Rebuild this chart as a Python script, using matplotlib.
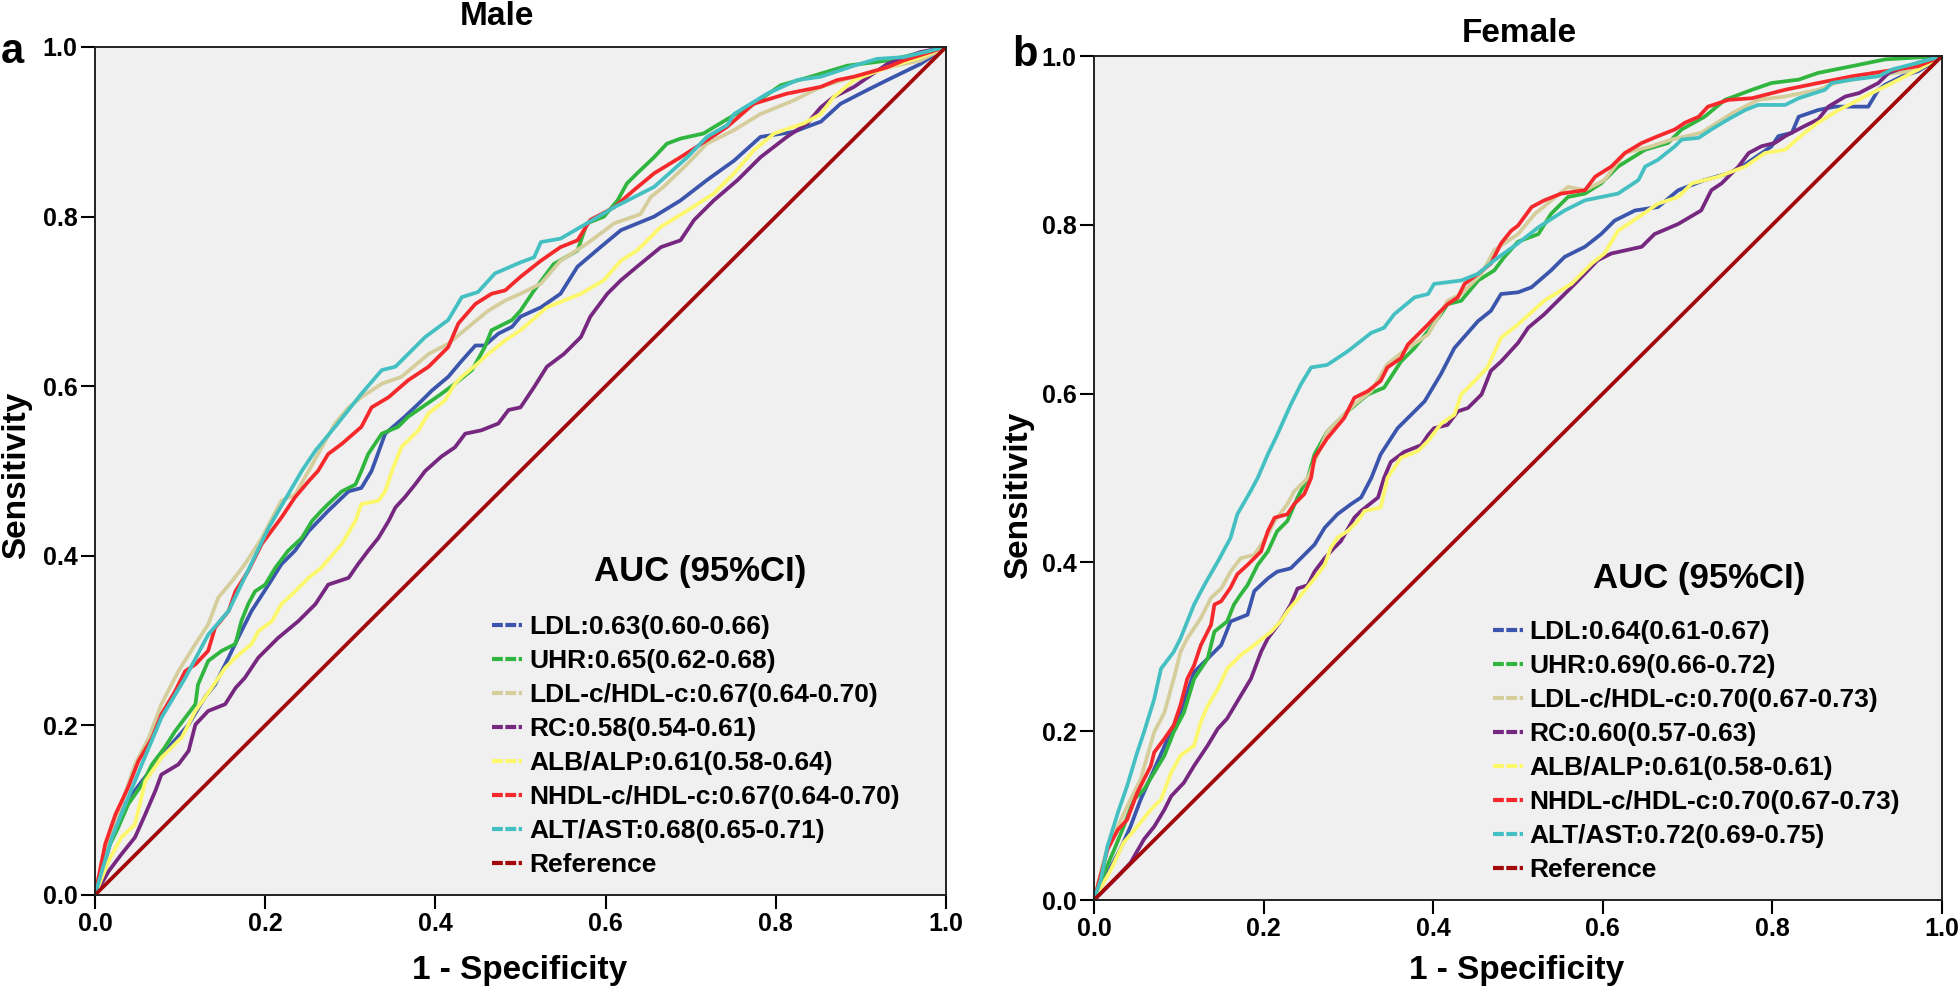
import numpy as np
import matplotlib
matplotlib.use("Agg")
import matplotlib.pyplot as plt
from matplotlib.lines import Line2D

plt.rcParams["font.family"] = ["Liberation Sans", "DejaVu Sans"]
plt.rcParams["font.weight"] = "bold"

# ROC points (1 - specificity, sensitivity)
male_ldl = [(0, 0), (.02, .068), (.035, .107), (.055, .134), (.071, .154), (.09, .178), (.11, .201), (.129, .233), (.141, .248), (.157, .28), (.168, .303), (.184, .335), (.204, .366), (.219, .39), (.235, .406), (.251, .429), (.274, .453), (.298, .476), (.313, .48), (.325, .5), (.341, .544), (.364, .564), (.384, .583), (.396, .595), (.415, .611), (.431, .63), (.447, .648), (.458, .648), (.474, .662), (.49, .67), (.5, .682), (.524, .693), (.547, .709), (.567, .741), (.594, .764), (.618, .784), (.657, .8), (.688, .819), (.719, .843), (.751, .866), (.782, .894), (.821, .9), (.853, .912), (.876, .933), (.907, .949), (.931, .961), (.97, .98), (1, 1)]
male_uhr = [(0, 0), (.012, .048), (.027, .079), (.039, .107), (.055, .13), (.067, .154), (.082, .174), (.094, .193), (.118, .225), (.121, .248), (.133, .276), (.149, .288), (.165, .296), (.172, .323), (.18, .343), (.188, .358), (.2, .366), (.212, .386), (.227, .406), (.243, .421), (.255, .441), (.266, .453), (.274, .461), (.29, .476), (.306, .484), (.313, .5), (.321, .52), (.337, .544), (.356, .552), (.368, .564), (.384, .575), (.407, .591), (.423, .603), (.443, .619), (.458, .646), (.466, .666), (.49, .678), (.5, .689), (.516, .713), (.539, .744), (.567, .76), (.578, .792), (.598, .8), (.614, .819), (.625, .839), (.637, .851), (.657, .87), (.672, .886), (.688, .892), (.715, .898), (.743, .915), (.774, .933), (.806, .955), (.841, .965), (.884, .978), (.931, .984), (1, 1)]
male_ldlc = [(0, 0), (.016, .068), (.031, .107), (.047, .154), (.063, .185), (.078, .225), (.098, .264), (.118, .296), (.133, .319), (.145, .351), (.161, .37), (.176, .39), (.196, .421), (.219, .465), (.235, .472), (.251, .5), (.282, .556), (.298, .575), (.313, .587), (.337, .603), (.36, .611), (.392, .638), (.415, .65), (.439, .67), (.462, .689), (.482, .701), (.5, .709), (.524, .721), (.547, .748), (.578, .768), (.61, .792), (.641, .803), (.653, .823), (.668, .835), (.696, .862), (.719, .886), (.751, .902), (.782, .921), (.821, .937), (.853, .953), (.892, .965), (.931, .976), (.97, .984), (1, 1)]
male_rc = [(0, 0), (.016, .028), (.031, .048), (.047, .068), (.059, .095), (.071, .123), (.078, .142), (.098, .154), (.11, .17), (.118, .201), (.133, .217), (.153, .225), (.165, .244), (.176, .256), (.192, .28), (.215, .303), (.239, .323), (.259, .343), (.274, .366), (.298, .374), (.309, .39), (.321, .406), (.333, .421), (.345, .441), (.353, .457), (.364, .469), (.376, .484), (.388, .5), (.407, .517), (.423, .528), (.435, .544), (.454, .548), (.474, .556), (.486, .572), (.5, .575), (.516, .599), (.531, .623), (.551, .638), (.571, .658), (.582, .682), (.602, .709), (.618, .725), (.637, .741), (.665, .764), (.688, .772), (.704, .796), (.727, .819), (.755, .843), (.782, .87), (.813, .894), (.837, .91), (.853, .929), (.868, .941), (.892, .953), (.915, .969), (.931, .98), (.97, .994), (1, 1)]
male_alb = [(0, 0), (.016, .04), (.031, .068), (.047, .083), (.059, .134), (.078, .162), (.102, .186), (.118, .217), (.137, .244), (.153, .268), (.165, .28), (.184, .296), (.192, .311), (.208, .323), (.219, .343), (.231, .354), (.251, .374), (.266, .386), (.29, .414), (.306, .441), (.313, .461), (.333, .465), (.341, .476), (.349, .5), (.36, .528), (.38, .548), (.392, .568), (.411, .583), (.423, .603), (.431, .611), (.45, .627), (.462, .638), (.482, .654), (.5, .666), (.531, .693), (.571, .709), (.598, .725), (.618, .748), (.637, .76), (.665, .788), (.696, .807), (.727, .827), (.751, .851), (.774, .878), (.798, .898), (.833, .91), (.853, .921), (.868, .941), (.892, .961), (.931, .976), (.97, .988), (1, 1)]
male_nhdl = [(0, 0), (.012, .06), (.024, .095), (.039, .127), (.051, .158), (.067, .185), (.078, .213), (.094, .24), (.106, .264), (.118, .272), (.133, .288), (.141, .315), (.157, .335), (.165, .358), (.18, .382), (.196, .414), (.219, .445), (.235, .469), (.251, .488), (.262, .5), (.274, .52), (.29, .532), (.313, .552), (.325, .575), (.345, .587), (.368, .607), (.392, .623), (.415, .646), (.427, .674), (.447, .697), (.466, .709), (.482, .713), (.5, .729), (.524, .748), (.547, .764), (.567, .772), (.582, .796), (.61, .811), (.633, .831), (.657, .851), (.688, .87), (.719, .89), (.743, .906), (.774, .933), (.813, .945), (.853, .953), (.872, .961), (.892, .965), (.931, .976), (.95, .984), (1, 1)]
male_alt = [(0, 0), (.008, .028), (.02, .068), (.039, .115), (.055, .154), (.078, .209), (.106, .256), (.133, .307), (.157, .335), (.204, .433), (.243, .5), (.259, .524), (.282, .552), (.313, .591), (.337, .619), (.353, .623), (.388, .658), (.415, .678), (.431, .705), (.45, .711), (.47, .733), (.5, .746), (.516, .752), (.524, .77), (.547, .774), (.578, .792), (.61, .811), (.657, .835), (.696, .87), (.719, .894), (.743, .908), (.751, .921), (.79, .945), (.825, .961), (.853, .965), (.892, .978), (.919, .986), (.95, .988), (1, 1)]

female_ldl = [(0, 0), (.016, .032), (.031, .06), (.043, .087), (.055, .119), (.071, .155), (.087, .191), (.098, .211), (.11, .246), (.118, .27), (.134, .286), (.15, .302), (.161, .33), (.181, .338), (.189, .366), (.205, .381), (.216, .389), (.232, .393), (.244, .405), (.26, .421), (.272, .441), (.287, .457), (.303, .469), (.315, .477), (.327, .5), (.338, .528), (.358, .559), (.37, .571), (.39, .591), (.409, .623), (.425, .654), (.453, .686), (.468, .698), (.48, .718), (.5, .72), (.516, .726), (.539, .746), (.555, .762), (.579, .774), (.598, .789), (.614, .805), (.638, .817), (.665, .821), (.689, .841), (.72, .853), (.748, .861), (.764, .869), (.799, .893), (.807, .905), (.823, .909), (.831, .928), (.854, .936), (.874, .94), (.913, .94), (.925, .96), (.933, .966), (.953, .976), (.972, .982), (1, 1)]
female_uhr = [(0, 0), (.012, .032), (.024, .06), (.035, .087), (.047, .119), (.059, .131), (.071, .151), (.083, .171), (.094, .199), (.106, .222), (.118, .262), (.134, .286), (.142, .318), (.157, .33), (.165, .35), (.173, .362), (.181, .373), (.193, .397), (.205, .413), (.216, .437), (.228, .449), (.24, .477), (.252, .5), (.26, .528), (.275, .555), (.299, .579), (.323, .599), (.342, .607), (.362, .638), (.378, .654), (.397, .678), (.409, .694), (.417, .706), (.433, .71), (.453, .734), (.472, .746), (.484, .762), (.5, .78), (.524, .789), (.539, .813), (.559, .833), (.579, .837), (.598, .849), (.618, .869), (.65, .889), (.677, .897), (.693, .913), (.72, .928), (.744, .948), (.776, .96), (.799, .968), (.831, .972), (.854, .98), (.894, .988), (.933, .996), (1, 1)]
female_ldlc = [(0, 0), (.016, .064), (.028, .087), (.043, .119), (.055, .143), (.063, .171), (.071, .199), (.083, .222), (.094, .262), (.102, .294), (.11, .31), (.126, .334), (.138, .358), (.15, .369), (.161, .389), (.173, .405), (.189, .409), (.197, .421), (.205, .433), (.213, .449), (.228, .469), (.236, .484), (.252, .5), (.275, .555), (.307, .587), (.327, .603), (.346, .635), (.37, .654), (.394, .67), (.417, .71), (.433, .718), (.457, .742), (.472, .77), (.5, .789), (.52, .813), (.559, .845), (.579, .841), (.602, .853), (.626, .885), (.657, .893), (.681, .901), (.716, .909), (.752, .932), (.783, .948), (.815, .952), (.854, .96), (.874, .968), (.894, .972), (.933, .978), (.972, .984), (1, 1)]
female_rc = [(0, 0), (.028, .028), (.043, .044), (.059, .072), (.071, .087), (.083, .107), (.091, .123), (.106, .139), (.118, .159), (.134, .183), (.146, .203), (.157, .215), (.173, .242), (.185, .262), (.197, .294), (.205, .31), (.22, .33), (.232, .35), (.24, .369), (.252, .373), (.26, .389), (.272, .405), (.283, .417), (.291, .425), (.307, .453), (.315, .461), (.335, .477), (.342, .5), (.35, .519), (.366, .531), (.386, .539), (.394, .551), (.401, .559), (.417, .563), (.429, .579), (.441, .583), (.457, .599), (.468, .627), (.48, .638), (.5, .66), (.512, .678), (.531, .694), (.543, .706), (.567, .73), (.594, .758), (.61, .766), (.646, .774), (.661, .789), (.689, .801), (.716, .817), (.728, .841), (.74, .849), (.76, .869), (.772, .885), (.787, .893), (.803, .897), (.815, .905), (.838, .917), (.854, .925), (.866, .94), (.886, .952), (.902, .956), (.925, .968), (.937, .98), (.972, .992), (1, 1)]
female_alb = [(0, 0), (.02, .036), (.035, .068), (.051, .087), (.067, .107), (.079, .119), (.091, .151), (.102, .171), (.118, .183), (.126, .211), (.134, .23), (.146, .25), (.157, .274), (.173, .29), (.189, .302), (.209, .318), (.22, .33), (.228, .342), (.244, .361), (.26, .381), (.272, .397), (.279, .417), (.287, .429), (.299, .437), (.311, .449), (.319, .461), (.338, .465), (.346, .5), (.362, .524), (.382, .532), (.394, .544), (.409, .564), (.425, .575), (.433, .599), (.449, .615), (.464, .631), (.48, .666), (.5, .682), (.531, .71), (.563, .73), (.587, .754), (.602, .766), (.618, .793), (.642, .809), (.665, .825), (.689, .833), (.705, .849), (.736, .857), (.768, .869), (.791, .885), (.815, .889), (.838, .909), (.854, .921), (.878, .936), (.894, .944), (.909, .952), (.933, .964), (.949, .972), (.972, .984), (1, 1)]
female_nhdl = [(0, 0), (.016, .06), (.028, .083), (.039, .095), (.051, .127), (.067, .159), (.071, .175), (.083, .191), (.094, .207), (.102, .231), (.11, .262), (.118, .278), (.126, .302), (.138, .326), (.142, .35), (.15, .354), (.161, .37), (.169, .386), (.181, .397), (.189, .405), (.197, .413), (.205, .437), (.213, .453), (.228, .457), (.236, .469), (.248, .481), (.256, .5), (.26, .524), (.275, .547), (.295, .571), (.307, .595), (.323, .603), (.338, .615), (.346, .631), (.362, .642), (.37, .658), (.382, .67), (.394, .682), (.405, .694), (.417, .706), (.429, .714), (.437, .73), (.453, .742), (.468, .754), (.48, .778), (.492, .793), (.5, .799), (.516, .821), (.531, .829), (.551, .837), (.579, .841), (.591, .857), (.61, .869), (.626, .885), (.646, .897), (.665, .905), (.685, .913), (.697, .921), (.713, .928), (.724, .94), (.748, .948), (.776, .95), (.815, .96), (.854, .968), (.894, .976), (.933, .982), (.972, .988), (1, 1)]
female_alt = [(0, 0), (.008, .024), (.016, .064), (.028, .103), (.039, .135), (.051, .175), (.059, .199), (.071, .238), (.079, .274), (.094, .294), (.102, .31), (.118, .35), (.13, .373), (.146, .401), (.161, .429), (.169, .457), (.185, .485), (.193, .5), (.205, .528), (.216, .551), (.232, .587), (.244, .611), (.256, .631), (.275, .634), (.299, .65), (.327, .672), (.342, .678), (.354, .694), (.378, .714), (.394, .718), (.401, .73), (.433, .734), (.453, .742), (.472, .758), (.5, .778), (.524, .797), (.555, .817), (.579, .829), (.618, .837), (.642, .853), (.65, .869), (.665, .877), (.685, .893), (.693, .901), (.713, .903), (.728, .913), (.748, .925), (.768, .936), (.783, .942), (.815, .942), (.831, .95), (.862, .96), (.87, .968), (.894, .972), (.925, .976), (.941, .984), (.972, .992), (1, 1)]

male_labels = ["LDL:0.63(0.60-0.66)", "UHR:0.65(0.62-0.68)", "LDL-c/HDL-c:0.67(0.64-0.70)",
               "RC:0.58(0.54-0.61)", "ALB/ALP:0.61(0.58-0.64)", "NHDL-c/HDL-c:0.67(0.64-0.70)",
               "ALT/AST:0.68(0.65-0.71)", "Reference"]
female_labels = ["LDL:0.64(0.61-0.67)", "UHR:0.69(0.66-0.72)", "LDL-c/HDL-c:0.70(0.67-0.73)",
                 "RC:0.60(0.57-0.63)", "ALB/ALP:0.61(0.58-0.61)", "NHDL-c/HDL-c:0.70(0.67-0.73)",
                 "ALT/AST:0.72(0.69-0.75)", "Reference"]
colors = ["#3b55ad", "#30b53f", "#d5ce9c", "#76277f", "#fcf76b", "#f5292c", "#44c0c2", "#a3080b"]
ticks = [0.0, 0.2, 0.4, 0.6, 0.8, 1.0]

fig = plt.figure(figsize=(19.6, 9.99), dpi=100)
ax_m = fig.add_axes([95 / 1960, 104 / 999, 851 / 1960, 848 / 999])
ax_f = fig.add_axes([1094 / 1960, 99 / 999, 848 / 1960, 844 / 999])

panels = [
    (ax_m, [male_ldl, male_uhr, male_ldlc, male_rc, male_alb, male_nhdl, male_alt], male_labels,
     (0.711, 0.381), (0.4665, 0.33)),
    (ax_f, [female_ldl, female_uhr, female_ldlc, female_rc, female_alb, female_nhdl, female_alt], female_labels,
     (0.714, 0.3815), (0.47, 0.332)),
]

for ax, curves, labels, title_pos, leg_pos in panels:
    ax.set_facecolor("#f0f0f0")
    for pts, c in zip(curves, colors):
        xy = np.array(pts)
        ax.plot(xy[:, 0], xy[:, 1], color=c, lw=2.7)
    ax.plot([0, 1], [0, 1], color=colors[-1], lw=2.7)
    ax.set_xlim(0, 1)
    ax.set_ylim(0, 1)
    ax.set_xticks(ticks)
    ax.set_yticks(ticks)
    ax.set_xticklabels(["{:.1f}".format(t) for t in ticks])
    ax.set_yticklabels(["{:.1f}".format(t) for t in ticks])
    ax.tick_params(direction="out", length=10, width=1.5, pad=2.5, labelsize=18)
    for sp in ax.spines.values():
        sp.set_linewidth(1.4)
        sp.set_color("#222222")

    handles = [Line2D([], [], color=c, lw=3, ls=(0, (2.6, 0.6))) for c in colors]
    ax.text(title_pos[0], title_pos[1], "AUC (95%CI)", transform=ax.transAxes, ha="center", va="center",
            fontsize=25, fontweight="bold")
    ax.legend(handles, labels, loc="upper left", bbox_to_anchor=leg_pos, frameon=False,
              borderpad=0, borderaxespad=0, handlelength=1.15, handletextpad=0.25, labelspacing=0.38,
              prop={"weight": "bold", "size": 19})

fig.text(497 / 1960, 1 - 25 / 999, "Male", ha="center", va="baseline", fontsize=24, fontweight="bold")
fig.text(1519 / 1960, 1 - 42 / 999, "Female", ha="center", va="baseline", fontsize=24, fontweight="bold")
fig.text(12 / 1960, 1 - 63 / 999, "a", ha="center", va="baseline", fontsize=30, fontweight="bold")
fig.text(1025 / 1960, 1 - 66 / 999, "b", ha="center", va="baseline", fontsize=30, fontweight="bold")
fig.text(17 / 1960, 1 - 475 / 999, "Sensitivity", rotation=90, ha="center", va="center", fontsize=24,
         fontweight="bold")
fig.text(1019 / 1960, 1 - 495 / 999, "Sensitivity", rotation=90, ha="center", va="center", fontsize=24,
         fontweight="bold")
fig.text(520 / 1960, 1 - 970 / 999, "1 - Specificity", ha="center", va="center", fontsize=24,
         fontweight="bold")
fig.text(1517 / 1960, 1 - 970 / 999, "1 - Specificity", ha="center", va="center", fontsize=24,
         fontweight="bold")

plt.savefig("out.png", dpi=100)
